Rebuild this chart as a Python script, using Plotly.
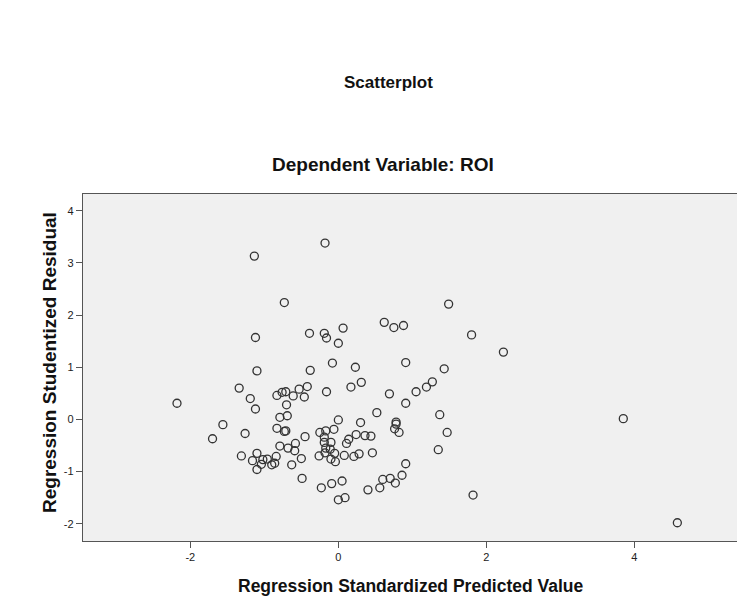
import plotly.graph_objects as go

# Regression standardized predicted value (x) and studentized residual (y)
predicted = [
    -1.135, -0.18, -0.73, -1.12, -0.39, -0.19, -0.16, 0.064, 0.0, 0.62,
    0.75, 0.88, 1.49, 1.80, 2.23, -0.08, 0.23, 0.91, -0.38, -1.10,
    1.43, -2.18, -1.70, -1.56, -1.34, -1.19, -1.12, -1.26, -1.31, -1.10,
    -1.16, -1.10, -1.04, -1.02, -0.96, -0.90, -0.86, -0.84, -0.83, -0.79,
    -0.83, -0.79, -0.76, -0.71, -0.61, -0.53, -0.46, -0.42, -0.16, 0.17,
    0.31, 0.69, 0.91, 1.05, 1.19, 1.27, -0.70, -0.69, -0.73, -0.71,
    -0.45, -0.68, -0.58, -0.59, -0.50, -0.63, -0.49, 0.0, -0.25, -0.17,
    -0.06, -0.19, -0.10, -0.19, -0.17, -0.11, -0.18, -0.05, -0.26, -0.10,
    -0.04, 0.08, 0.11, 0.14, 0.24, 0.30, 0.21, 0.28, 0.36, 0.44,
    0.46, 0.52, 0.78, 0.78, 0.76, 0.82, 0.91, 0.86, 0.77, 0.70,
    0.60, 0.56, 0.40, 0.05, -0.09, -0.23, 0.0, 0.09, 1.37, 1.47,
    1.35, 1.82, 3.85, 4.58,
]
residual = [
    3.13, 3.38, 2.24, 1.57, 1.65, 1.65, 1.56, 1.75, 1.46, 1.86,
    1.76, 1.80, 2.21, 1.62, 1.29, 1.08, 1.00, 1.09, 0.94, 0.93,
    0.97, 0.31, -0.37, -0.10, 0.60, 0.40, 0.20, -0.27, -0.70, -0.65,
    -0.79, -0.96, -0.86, -0.77, -0.76, -0.87, -0.84, -0.71, 0.46, 0.04,
    -0.17, -0.51, 0.52, 0.53, 0.45, 0.58, 0.43, 0.63, 0.53, 0.62,
    0.71, 0.49, 0.31, 0.53, 0.62, 0.72, 0.28, 0.07, -0.23, -0.22,
    -0.33, -0.55, -0.46, -0.60, -0.75, -0.87, -1.13, -0.01, -0.25, -0.22,
    -0.19, -0.34, -0.44, -0.44, -0.55, -0.57, -0.64, -0.65, -0.70, -0.76,
    -0.81, -0.69, -0.46, -0.38, -0.29, -0.06, -0.71, -0.66, -0.31, -0.32,
    -0.64, 0.13, -0.05, -0.09, -0.18, -0.25, -0.85, -1.07, -1.22, -1.13,
    -1.15, -1.31, -1.35, -1.18, -1.23, -1.31, -1.54, -1.50, 0.09, -0.25,
    -0.58, -1.45, 0.015, -1.98,
]

x_tick_vals = [-2, 0, 2, 4]
x_tick_text = ["-2", "0", "2", "4"]
y_tick_vals = [-2, -1, 0, 1, 2, 3, 4]
y_tick_text = ["-2", "-1", "0", "1", "2", "3", "4"]

title_text = "Scatterplot"
subtitle_text = "Dependent Variable: ROI"
x_title = "Regression Standardized Predicted Value"
y_title = "Regression Studentized Residual"

FONT = "Liberation Sans, Arial, sans-serif"

# page body has an 8px margin; figure is sized so plot area lands at
# x 83..741, y 194..541 in the window
L, T, R, B = 75, 186, 4, 65
W, H = 737, 598
PW = W - L - R   # 658
PH = H - T - B   # 347


def px_x(xp):
    return (xp - 8 - L) / PW


def px_y(yp):
    return 1 - (yp - 8 - T) / PH


fig = go.Figure()
fig.add_trace(go.Scatter(
    x=predicted, y=residual, mode="markers",
    marker=dict(symbol="circle-open", size=8, color="#333333",
                line=dict(width=1.3, color="#333333")),
    hoverinfo="x+y", showlegend=False,
))

axis_common = dict(
    showgrid=False, zeroline=False, showline=True, mirror=True,
    linecolor="#555555", linewidth=1.3, ticks="outside", ticklen=6,
    tickwidth=1.3, tickcolor="#555555",
    tickfont=dict(family=FONT, size=11, color="#222222"),
)

fig.update_layout(
    width=W, height=H,
    margin=dict(l=L, r=R, t=T, b=B),
    paper_bgcolor="white", plot_bgcolor="#F0F0F0",
    font=dict(family=FONT, color="#000000"),
    xaxis=dict(range=[-3.45, 5.44], tickvals=x_tick_vals, ticktext=x_tick_text,
               **axis_common),
    yaxis=dict(range=[-2.33, 4.32], tickvals=y_tick_vals, ticktext=y_tick_text,
               **axis_common),
    annotations=[
        dict(text="<b>" + title_text + "</b>", xref="paper", yref="paper",
             x=px_x(388), y=px_y(82), xanchor="center",
             yanchor="middle", showarrow=False,
             font=dict(family=FONT, size=17, color="#111111")),
        dict(text="<b>" + subtitle_text + "</b>", xref="paper", yref="paper",
             x=px_x(383), y=px_y(164), xanchor="center",
             yanchor="middle", showarrow=False,
             font=dict(family=FONT, size=19, color="#111111")),
        dict(text="<b>" + x_title + "</b>", xref="paper", yref="paper",
             x=px_x(411), y=px_y(586), xanchor="center",
             yanchor="middle", showarrow=False,
             font=dict(family=FONT, size=17.5, color="#111111")),
        dict(text="<b>" + y_title + "</b>", xref="paper", yref="paper",
             x=px_x(49), y=px_y(363), xanchor="center",
             yanchor="middle", showarrow=False, textangle=-90,
             font=dict(family=FONT, size=19, color="#111111")),
    ],
)

fig.write_html("out.html")
